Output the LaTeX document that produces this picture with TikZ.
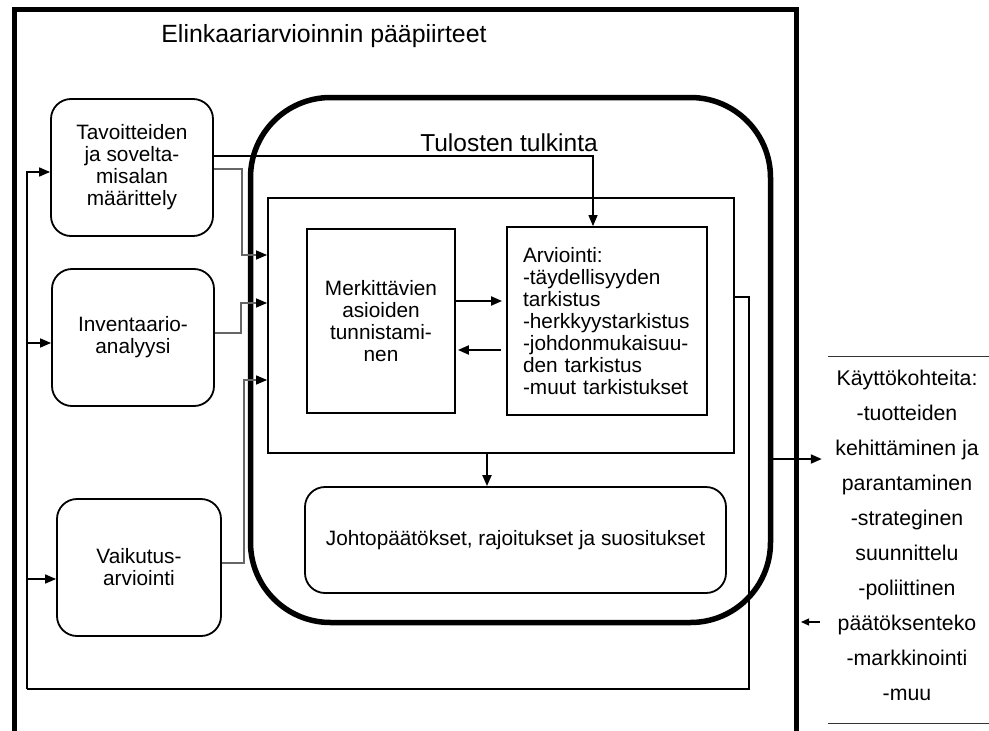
\documentclass[tikz,border=0pt]{standalone}
\usepackage{fontspec}
\setmainfont{Liberation Sans}
\usetikzlibrary{arrows.meta}
\begin{document}
\begin{tikzpicture}[x=1pt,y=-1pt,
  every node/.style={inner sep=0pt, font=\fontsize{20.8}{22}\selectfont},
  stage/.style={draw, line width=1.8pt, rounded corners=20pt, align=center,
    minimum width=162pt, minimum height=137pt},
  plainbox/.style={draw, line width=1.8pt},
  tip/.style={-{Triangle[length=11pt,width=9pt,color=black]}},
  link/.style={tip, line width=1.2pt},
  thinlink/.style={tip, line width=1.3pt, draw=black!60},
  boldlink/.style={tip, line width=2pt},
  feedline/.style={line width=1.6pt},
  rule/.style={line width=1.3pt, draw=black!80}
]
\useasboundingbox (0,0) rectangle (989,731);
\clip (0,0) rectangle (989,731);
\fill[white] (0,0) rectangle (989,731);

% outer frame, open at the bottom edge
\node[draw, line width=5pt, minimum width=781.5pt, minimum height=780pt] (frame) at (405.25,399.5) {};
\node[anchor=base, font=\fontsize{24.9}{28}\selectfont] (title) at (324,42) {Elinkaariarvioinnin pääpiirteet};

% phases of the assessment
\node[stage] (tav) at (132,167.5) {Tavoitteiden\\ja sovelta-\\misalan\\määrittely};
\node[stage] (inv) at (133,337.5) {Inventaario-\\analyysi};
\node[stage, minimum width=164pt] (vai) at (139,567.5) {Vaikutus-\\arviointi};

% interpretation block
\node[draw, line width=5.5pt, rounded corners=80pt, minimum width=520pt, minimum height=525pt] (tulk) at (510.5,360) {};
\node[anchor=base, font=\fontsize{24.5}{28}\selectfont] (tulklabel) at (509,151) {Tulosten tulkinta};
\node[plainbox, minimum width=466pt, minimum height=255pt] (inner) at (501,325.5) {};
\node[plainbox, align=center, minimum width=148pt, minimum height=184pt] (merk) at (381,321)
  {Merkittävien\\asioiden\\tunnistami-\\nen};
\node[plainbox, align=left, text width=168pt, inner xsep=16pt, minimum width=200pt, minimum height=188pt] (arv) at (607,321)
  {Arviointi:\\-täydellisyyden\\tarkistus\\-herkkyystarkistus\\-johdonmukaisuu-\\den tarkistus\\-muut tarkistukset};
\node[plainbox, rounded corners=20pt, minimum width=421pt, minimum height=106pt] (joh) at (515.5,540)
  {Johtopäätökset, rajoitukset ja suositukset};

% applications panel
\node[minimum width=161pt, minimum height=366pt] (use) at (908.5,540) {};
\node[align=center, font=\fontsize{21.3}{35}\selectfont] (usetext) at (907,535)
  {Käyttökohteita:\\-tuotteiden\\kehittäminen ja\\parantaminen\\-strateginen\\suunnittelu\\-poliittinen\\päätöksenteko\\-markkinointi\\-muu};
\draw[rule] (use.north west) -- (use.north east);
\draw[rule] (use.south west) -- (use.south east);

% connectors from the phases
\draw[link] ([yshift=11.5pt]tav.east) -| ([xshift=-14pt]arv.north);
\draw[thinlink] ([yshift=-1.5pt]tav.east) -- ++(28,0) |- ([yshift=70.5pt]inner.west);
\draw[thinlink] ([yshift=4.5pt]inv.east) -- ++(26,0) |- ([yshift=22.5pt]inner.west);
\draw[thinlink] ([yshift=4.5pt]vai.east) -- ++(22,0) |- ([yshift=-54.5pt]inner.west);

% inside the interpretation block
\draw[boldlink, shorten >=4pt] ([yshift=20pt]merk.east) -- ([yshift=20pt]arv.west);
\draw[boldlink, shorten <=5pt, shorten >=2pt] ([yshift=-29pt]arv.west) -- ([yshift=-29pt]merk.east);
\coordinate (down) at ([xshift=-14pt]inner.south);
\draw[boldlink] (down) -- (down |- joh.north);

% feedback loop back to the phases
\coordinate (fbR) at (749,689);
\coordinate (fbL) at (27,689);
\draw[feedline] ([yshift=28.5pt]inner.east) -| (fbR) -- (fbL);
\draw[feedline, tip] (fbL) |- ([yshift=-4.5pt]tav.west);
\coordinate (invIn) at ([yshift=-5.5pt]inv.west);
\coordinate (vaiIn) at ([yshift=-11.5pt]vai.west);
\draw[feedline, tip] (invIn -| fbL) -- (invIn);
\draw[feedline, tip] (vaiIn -| fbL) -- (vaiIn);

% links to and from the applications
\coordinate (out) at ([yshift=-99pt]tulk.east);
\draw[boldlink, shorten >=6pt] (out) -- (out -| use.west);
\coordinate (pin) at ([xshift=-8pt,yshift=-82pt]use.west);
\draw[line width=1.2pt, -{Triangle[length=8pt,width=7pt]}, shorten >=2.5pt] (pin) -- (pin -| frame.east);
\end{tikzpicture}
\end{document}
